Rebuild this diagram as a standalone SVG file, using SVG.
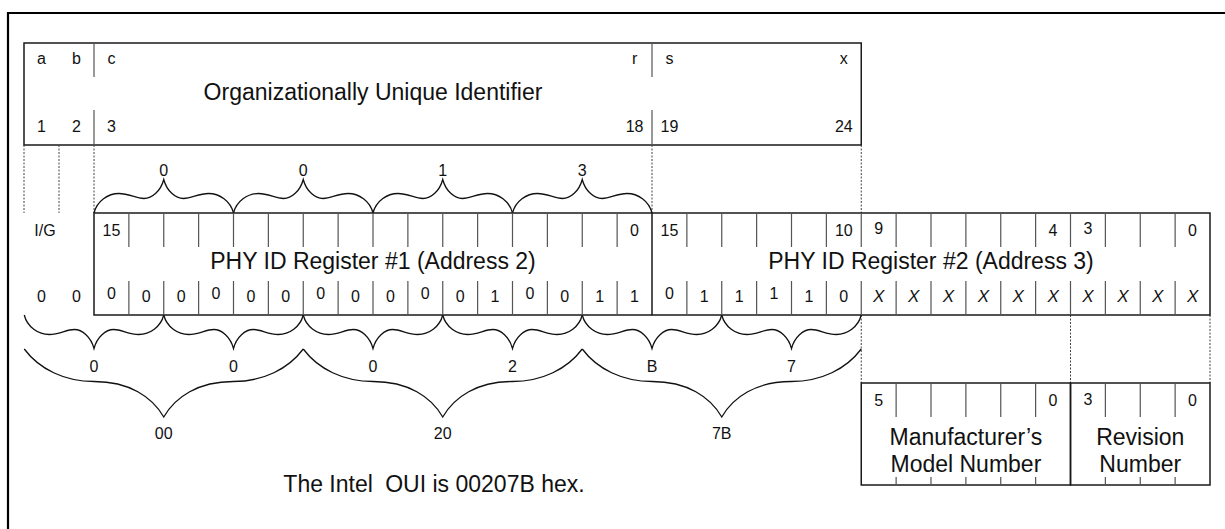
<svg xmlns="http://www.w3.org/2000/svg" xmlns:xlink="http://www.w3.org/1999/xlink" width="1225" height="529" viewBox="0 0 1225 529">
<style>
.frame{fill:none;stroke:#000;stroke-width:2.2}
.box{fill:none;stroke:#1a1a1a;stroke-width:1.5}
.tick{fill:none;stroke:#555;stroke-width:1.2}
.dot{fill:none;stroke:#444;stroke-width:1;stroke-dasharray:2 1.5}
.brace{fill:none;stroke:#111;stroke-width:1.3}
text{font-family:"Liberation Sans",Arial,Helvetica,sans-serif;font-size:16px;text-anchor:middle;fill:#111}
text.big{font-size:23px}
text.bl{font-size:16px}
text.it{font-style:italic;font-size:17px}
</style>
<defs>
<path id="sb" class="brace" d="M0,0 C3,12 14,19.5 25,19.5 C35,19.5 42,14.5 50,14.5 C58,14.5 66.75,22 69.75,33.5 C72.75,22 81.5,14.5 89.5,14.5 C97.5,14.5 104.5,19.5 114.5,19.5 C125.5,19.5 136.5,12 139.5,0"/>
<path id="bb" class="brace" d="M0,0 C15,20 40,32.5 70,32.5 C105,32.5 128,48 139.5,68 C151,48 174,32.5 209,32.5 C239,32.5 264,20 279,0"/>
</defs>
<rect width="1225" height="529" fill="#fff"/>
<path class="frame" d="M8,530 L8,13 L1226,13"/>

<g id="oui">
<rect class="box" x="24" y="43" width="837.25" height="102"/>
<path class="tick" d="M94,43V77M94,110V145M652,43V77M652,110V145"/>
<text x="41.5" y="64">a</text><text x="76.5" y="64">b</text><text x="111.4" y="64">c</text>
<text x="634.6" y="64">r</text><text x="669.4" y="64">s</text><text x="843.8" y="64">x</text>
<text class="big" x="373" y="100">Organizationally Unique Identifier</text>
<text x="41.5" y="132">1</text><text x="76.5" y="132">2</text><text x="111.4" y="132">3</text>
<text x="634.6" y="132">18</text><text x="669.4" y="132">19</text><text x="843.8" y="132">24</text>
</g>

<g id="connectors">
<path class="dot" d="M24,145V213M59,145V213M94,145V213M652,145V213M861.25,145V213"/>
<path class="dot" d="M861.25,315V383M1070.5,315V383M1210,315V383"/>
<use xlink:href="#sb" href="#sb" transform="translate(94,213) scale(1,-1)"/>
<use xlink:href="#sb" href="#sb" transform="translate(233.5,213) scale(1,-1)"/>
<use xlink:href="#sb" href="#sb" transform="translate(373,213) scale(1,-1)"/>
<use xlink:href="#sb" href="#sb" transform="translate(512.5,213) scale(1,-1)"/>
<use xlink:href="#sb" href="#sb" transform="translate(24.25,315)"/>
<use xlink:href="#sb" href="#sb" transform="translate(163.75,315)"/>
<use xlink:href="#sb" href="#sb" transform="translate(303.25,315)"/>
<use xlink:href="#sb" href="#sb" transform="translate(442.75,315)"/>
<use xlink:href="#sb" href="#sb" transform="translate(582.25,315)"/>
<use xlink:href="#sb" href="#sb" transform="translate(721.75,315)"/>
<use xlink:href="#bb" href="#bb" transform="translate(24.25,349)"/>
<use xlink:href="#bb" href="#bb" transform="translate(303.25,349)"/>
<use xlink:href="#bb" href="#bb" transform="translate(582.25,349)"/>
</g>

<g id="brace-labels">
<text class="bl" x="163.75" y="176">0</text><text class="bl" x="303.25" y="176">0</text><text class="bl" x="442.75" y="176">1</text><text class="bl" x="582.25" y="176">3</text>
<text class="bl" x="94" y="372">0</text><text class="bl" x="233.5" y="372">0</text><text class="bl" x="373" y="372">0</text><text class="bl" x="512.5" y="372">2</text><text class="bl" x="652" y="372">B</text><text class="bl" x="791.5" y="372">7</text>
<text class="bl" x="163.75" y="439">00</text><text class="bl" x="442.75" y="439">20</text><text class="bl" x="721.75" y="439">7B</text>
</g>

<g id="ig">
<text x="45" y="236">I/G</text>
<text x="41.5" y="302">0</text><text x="76.5" y="302">0</text>
</g>

<g id="reg1">
<path class="box" d="M652,213H94V315H652"/>
<path class="tick" d="M128.875,213V247M163.75,213V247M198.625,213V247M233.5,213V247M268.375,213V247M303.25,213V247M338.125,213V247M373,213V247M407.875,213V247M442.75,213V247M477.625,213V247M512.5,213V247M547.375,213V247M582.25,213V247M617.125,213V247M128.875,281V315M163.75,281V315M198.625,281V315M233.5,281V315M268.375,281V315M303.25,281V315M338.125,281V315M373,281V315M407.875,281V315M442.75,281V315M477.625,281V315M512.5,281V315M547.375,281V315M582.25,281V315M617.125,281V315"/>
<text x="111.44" y="236">15</text><text x="634.56" y="236">0</text>
<text class="big" x="373" y="269">PHY ID Register #1 (Address 2)</text>
<text x="111.44" y="299">0</text><text x="146.31" y="302">0</text><text x="181.19" y="302">0</text><text x="216.06" y="299">0</text><text x="250.94" y="302">0</text><text x="285.81" y="302">0</text><text x="320.69" y="299">0</text><text x="355.56" y="302">0</text><text x="390.44" y="302">0</text><text x="425.31" y="299">0</text><text x="460.19" y="302">0</text><text x="495.06" y="302">1</text><text x="529.94" y="299">0</text><text x="564.81" y="302">0</text><text x="599.69" y="302">1</text><text x="634.56" y="302">1</text>
</g>

<g id="reg2">
<path class="box" d="M652,213H1210V315H652Z"/>
<path class="tick" d="M686.875,213V247M721.75,213V247M756.625,213V247M791.5,213V247M826.375,213V247M861.25,213V247M896.125,213V247M931,213V247M965.875,213V247M1000.75,213V247M1035.625,213V247M1070.5,213V247M1105.375,213V247M1140.25,213V247M1175.125,213V247M686.875,281V315M721.75,281V315M756.625,281V315M791.5,281V315M826.375,281V315M861.25,281V315M896.125,281V315M931,281V315M965.875,281V315M1000.75,281V315M1035.625,281V315M1070.5,281V315M1105.375,281V315M1140.25,281V315M1175.125,281V315"/>
<text x="669.44" y="236">15</text><text x="843.81" y="236">10</text><text x="878.69" y="234">9</text><text x="1053.06" y="236">4</text><text x="1087.94" y="234">3</text><text x="1192.56" y="236">0</text>
<text class="big" x="931" y="269">PHY ID Register #2 (Address 3)</text>
<text x="669.44" y="299">0</text><text x="704.31" y="302">1</text><text x="739.19" y="302">1</text><text x="774.06" y="299">1</text><text x="808.94" y="302">1</text><text x="843.81" y="302">0</text>
<text class="it" x="878.69" y="302">X</text><text class="it" x="913.56" y="302">X</text><text class="it" x="948.44" y="302">X</text><text class="it" x="983.31" y="302">X</text><text class="it" x="1018.19" y="302">X</text><text class="it" x="1053.06" y="302">X</text><text class="it" x="1087.94" y="302">X</text><text class="it" x="1122.81" y="302">X</text><text class="it" x="1157.69" y="302">X</text><text class="it" x="1192.56" y="302">X</text>
</g>

<g id="model">
<rect class="box" x="861.25" y="383" width="209.25" height="102"/>
<path class="tick" d="M896.125,383V417M931,383V417M965.875,383V417M1000.75,383V417M1035.625,383V417M896.125,477V485M931,477V485M965.875,477V485M1000.75,477V485M1035.625,477V485"/>
<text x="878.69" y="406">5</text><text x="1053.06" y="406">0</text>
<text class="big" x="965.9" y="445">Manufacturer’s</text>
<text class="big" x="965.9" y="472">Model Number</text>
</g>

<g id="revision">
<rect class="box" x="1070.5" y="383" width="139.5" height="102"/>
<path class="tick" d="M1105.375,383V417M1140.25,383V417M1175.125,383V417M1105.375,477V485M1140.25,477V485M1175.125,477V485"/>
<text x="1087.94" y="405">3</text><text x="1192.56" y="406">0</text>
<text class="big" x="1140.25" y="445">Revision</text>
<text class="big" x="1140.25" y="472">Number</text>
</g>

<g id="caption">
<text class="big" x="434" y="492">The Intel<tspan dx="6"> OUI is 00207B hex.</tspan></text>
</g>
</svg>
